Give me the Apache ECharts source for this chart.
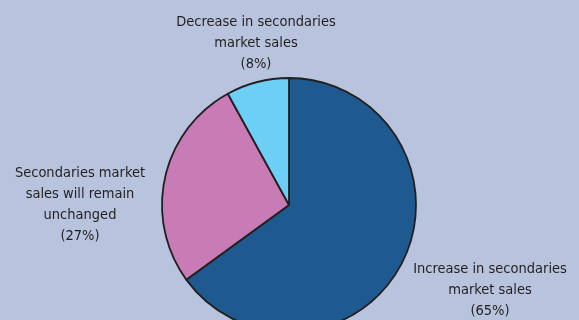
<!DOCTYPE html>
<html>
<head>
<meta charset="utf-8">
<script src="https://cdn.jsdelivr.net/npm/echarts@6/dist/echarts.min.js"></script>
<style>
  html, body { margin: 0; padding: 0; background: #b8c3dd; }
  #chart { width: 579px; height: 320px; }
</style>
</head>
<body>
<div id="chart"></div>
<script>
// Expected change in secondaries market sales
const categories = [
  'Increase in secondaries\nmarket sales',
  'Secondaries market\nsales will remain\nunchanged',
  'Decrease in secondaries\nmarket sales'
];
const shares = [65, 27, 8];
const sliceColors = ['#1e5a8f', '#c87bb5', '#6dcff6'];

// label anchor points (centre x, top y) for each slice
const labelSpots = [
  { x: 490, y: 259 },
  { x: 80, y: 163 },
  { x: 256, y: 12 }
];

const chart = echarts.init(document.getElementById('chart'), null, { renderer: 'canvas' });
chart.setOption({
  backgroundColor: '#b8c3dd',
  animation: false,
  series: [{
    type: 'pie',
    center: [289, 205],
    radius: 127,
    startAngle: 90,
    clockwise: true,
    data: categories.map((name, i) => ({
      name: name,
      value: shares[i],
      itemStyle: { color: sliceColors[i] }
    })),
    itemStyle: { borderColor: '#231f20', borderWidth: 1.8 },
    label: {
      show: true,
      position: 'outside',
      formatter: '{b}\n({d}%)',
      color: '#231f20',
      fontFamily: "'DejaVu Sans Condensed', sans-serif",
      fontSize: 14.5,
      lineHeight: 21,
      align: 'center',
      overflow: 'none',
      width: 300
    },
    labelLine: { show: false },
    labelLayout: function (p) {
      const s = labelSpots[p.dataIndex];
      return { x: s.x, y: s.y, align: 'center', verticalAlign: 'top' };
    },
    emphasis: { disabled: true }
  }]
});
</script>
</body>
</html>
